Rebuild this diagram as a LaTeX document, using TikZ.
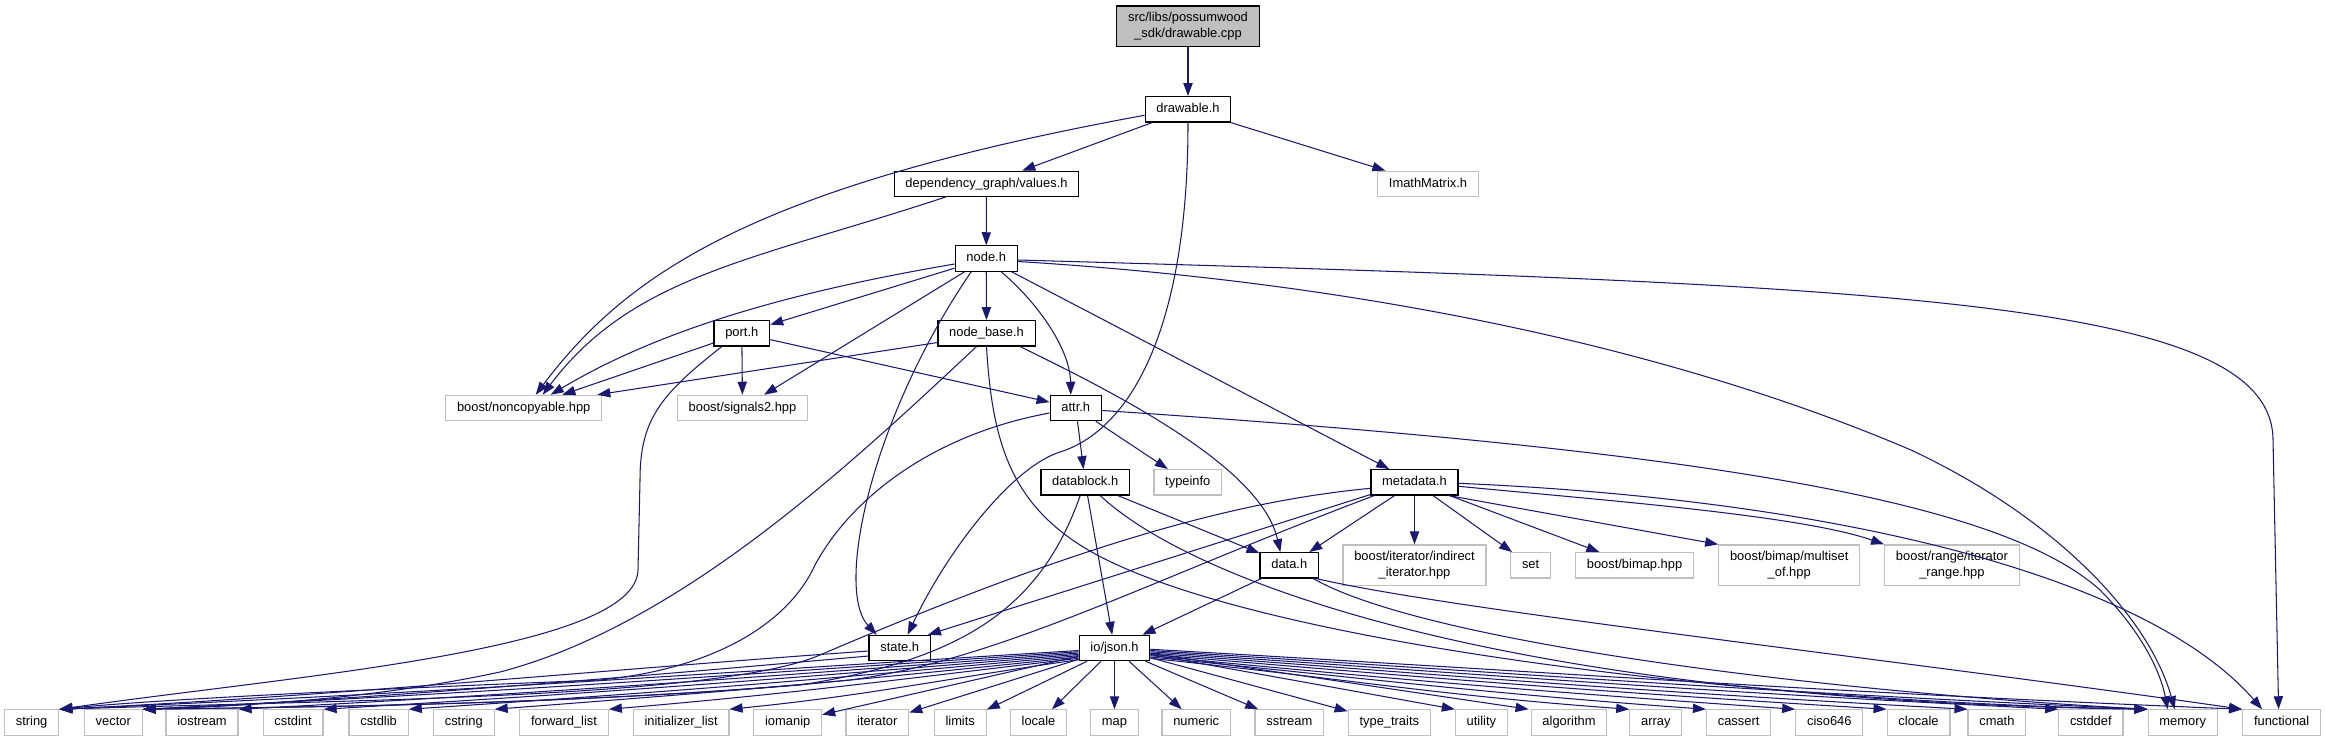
\documentclass[tikz,border=0pt]{standalone}
\usepackage{fontspec}
\setmainfont{Liberation Sans}
\usetikzlibrary{arrows.meta}
\definecolor{edgeblue}{HTML}{191970}
\definecolor{extgray}{HTML}{BFBFBF}
\newcommand{\nf}{\fontsize{12.9pt}{15.4pt}\selectfont}
\begin{document}
\begin{tikzpicture}[x=1pt,y=1pt,
  box/.style={rectangle, font=\nf, inner xsep=11.3pt, inner ysep=0pt, line width=1.2pt},
  single/.style={box, minimum height=25.3pt, text height=9.4pt, text depth=2.8pt},
  double/.style={box, align=center, minimum height=40.5pt},
  intn/.style={single, draw=black},
  extn/.style={single, draw=extgray},
  ext2/.style={double, draw=extgray},
  cppn/.style={double, draw=black, fill=extgray},
  edge/.style={draw=edgeblue, line width=1.05pt, -{Triangle[length=13pt,width=9.3pt]}}]
\useasboundingbox (0,0) rectangle (2325,-741);

\node[cppn] (cpp) at (1188,-26.3) {src/libs/possumwood\\\_sdk/drawable.cpp};
\node[intn] (drawable) at (1188,-109.3) {drawable.h};
\node[intn] (values) at (986.5,-183.8) {dependency\_graph/values.h};
\node[extn] (imath) at (1428,-183.8) {ImathMatrix.h};
\node[intn] (nodeh) at (986.2,-258.5) {node.h};
\node[intn] (nodebase) at (986.5,-333.3) {node\_base.h};
\node[intn] (port) at (741.8,-333.3) {port.h};
\node[intn] (attr) at (1075.8,-408) {attr.h};
\node[extn] (noncopy) at (523.7,-408) {boost/noncopyable.hpp};
\node[extn] (signals) at (742.5,-408) {boost/signals2.hpp};
\node[intn] (datablock) at (1085.2,-482.3) {datablock.h};
\node[extn] (typeinfo) at (1187.8,-482.3) {typeinfo};
\node[intn] (metadata) at (1414.5,-482.3) {metadata.h};
\node[intn] (data) at (1289.3,-565.3) {data.h};
\node[ext2] (indirect) at (1414.5,-565.2) {boost/iterator/indirect\\\_iterator.hpp};
\node[extn] (set) at (1530.6,-565.3) {set};
\node[extn] (bimap) at (1634.5,-565.3) {boost/bimap.hpp};
\node[ext2] (multiset) at (1789.2,-565.2) {boost/bimap/multiset\\\_of.hpp};
\node[ext2] (itrange) at (1951.9,-565.2) {boost/range/iterator\\\_range.hpp};
\node[intn] (state) at (899.7,-648) {state.h};
\node[intn] (json) at (1114.5,-648) {io/json.h};

\node[extn] (string) at (31.6,-722.5) {string};
\node[extn] (vector) at (113.3,-722.5) {vector};
\node[extn] (iostream) at (202,-722.5) {iostream};
\node[extn] (cstdint) at (293.1,-722.5) {cstdint};
\node[extn] (cstdlib) at (378.6,-722.5) {cstdlib};
\node[extn] (cstring) at (463.8,-722.5) {cstring};
\node[extn] (fwdlist) at (564,-722.5) {forward\_list};
\node[extn] (initlist) at (681.1,-722.5) {initializer\_list};
\node[extn] (iomanip) at (787.7,-722.5) {iomanip};
\node[extn] (iterator) at (877.3,-722.5) {iterator};
\node[extn] (limits) at (960.2,-722.5) {limits};
\node[extn] (locale) at (1038.5,-722.5) {locale};
\node[extn] (map) at (1114.5,-722.5) {map};
\node[extn] (numeric) at (1196.2,-722.5) {numeric};
\node[extn] (sstream) at (1289.3,-722.5) {sstream};
\node[extn] (typetraits) at (1389.3,-722.5) {type\_traits};
\node[extn] (utility) at (1481.4,-722.5) {utility};
\node[extn] (algorithm) at (1569,-722.5) {algorithm};
\node[extn] (array) at (1655.8,-722.5) {array};
\node[extn] (cassert) at (1738.6,-722.5) {cassert};
\node[extn] (ciso) at (1829.3,-722.5) {ciso646};
\node[extn] (clocale) at (1918.5,-722.5) {clocale};
\node[extn] (cmath) at (1996.9,-722.5) {cmath};
\node[extn] (cstddef) at (2090.8,-722.5) {cstddef};
\node[extn] (memory) at (2182.7,-722.5) {memory};
\node[extn] (functional) at (2281.6,-722.5) {functional};

% top part
\draw[edge] (cpp) -- (drawable);
\draw[edge] (drawable) -- (values);
\draw[edge] (drawable) -- (imath);
\draw[edge] ([yshift=-6pt]drawable.west) .. controls (751,-187) and (626,-275) .. ([xshift=12pt]noncopy.north);
\draw[edge] (drawable.south) .. controls (1188,-330) and (1130,-430) .. (1060,-452) .. controls (1010,-468) and (945,-555) .. ([xshift=8pt]state.north);
\draw[edge] (values) -- (nodeh);
\draw[edge] ([xshift=-41pt]values.south) .. controls (755,-260) and (633,-275) .. ([xshift=19pt]noncopy.north);

% node.h
\draw[edge] ([yshift=-5.5pt]nodeh.west) .. controls (778,-294) and (654,-333) .. ([xshift=27pt]noncopy.north);
\draw[edge] (nodeh) -- (port);
\draw[edge] (nodeh) -- (signals);
\draw[edge] ([xshift=-15pt]nodeh.south) .. controls (870,-420) and (835,-590) .. ([xshift=-23pt]state.north);
\draw[edge] (nodeh) -- (nodebase);
\draw[edge] ([xshift=15pt]nodeh.south) .. controls (1040,-305) and (1070,-350) .. ([xshift=-5pt]attr.north);
\draw[edge] (nodeh) -- (metadata);
\draw[edge] ([yshift=-1.5pt]nodeh.east) .. controls (1900,-285) and (2272,-300) .. (2273,-440) -- ([xshift=-3pt]functional.north);
\draw[edge] ([yshift=-3pt]nodeh.east) .. controls (1400,-285) and (1700,-360) .. (1911,-450) .. controls (2060,-520) and (2150,-620) .. ([xshift=-8pt]memory.north);

% port.h
\draw[edge] (port) -- (noncopy);
\draw[edge] (port) -- (signals);
\draw[edge] (port) -- (attr);
\draw[edge] ([xshift=-20pt]port.south) .. controls (660,-395) and (640,-420) .. (640,-480) -- (638,-570) .. controls (636,-650) and (300,-675) .. (string.north east);

% node_base.h
\draw[edge] ([yshift=4pt]nodebase.south west) -- ([xshift=-5pt]noncopy.north east);
\draw[edge] ([xshift=33.5pt]nodebase.south) .. controls (1130,-400) and (1262,-470) .. ([xshift=-9pt]data.north);
\draw[edge] ([xshift=-10pt]nodebase.south) .. controls (850,-465) and (680,-625) .. (500,-672) .. controls (380,-698) and (250,-706) .. (vector.north east);
\draw[edge] (nodebase.south) .. controls (992,-440) and (1010,-500) .. (1080,-545) .. controls (1220,-635) and (1700,-700) .. (memory.north west);

% attr.h
\draw[edge] (attr) -- (datablock);
\draw[edge] (attr) -- (typeinfo);
\draw[edge] ([yshift=-5pt]attr.west) .. controls (930,-435) and (850,-500) .. (815,-565) .. controls (790,-620) and (720,-668) .. (600,-680) .. controls (350,-690) and (150,-700) .. (string.north east);
\draw[edge] ([yshift=-2.5pt]attr.east) .. controls (1700,-450) and (2000,-500) .. (2100,-590) .. controls (2140,-630) and (2160,-670) .. ([xshift=-15pt]memory.north);

% datablock.h
\draw[edge] (datablock) -- (data);
\draw[edge] (datablock) -- (json);
\draw[edge] ([xshift=-5pt]datablock.south) .. controls (1040,-610) and (960,-660) .. (800,-685) .. controls (550,-705) and (300,-707) .. (vector.north east);
\draw[edge] ([xshift=15pt]datablock.south) .. controls (1190,-580) and (1500,-700) .. (memory.north west);

% data.h
\draw[edge] (data) -- (json);
\draw[edge] ([xshift=27pt]data.south) .. controls (1450,-610) and (1900,-660) .. (functional.north west);
\draw[edge] ([xshift=24pt]data.south) .. controls (1420,-640) and (1800,-690) .. (memory.north west);

% metadata.h
\draw[edge] (metadata) -- (data);
\draw[edge] (metadata) -- (indirect);
\draw[edge] (metadata) -- (set);
\draw[edge] (metadata) -- (bimap);
\draw[edge] ([xshift=-10pt]metadata.south east) -- (multiset.north west);
\draw[edge] ([yshift=-4pt]metadata.east) .. controls (1600,-500) and (1800,-515) .. (itrange.north west);
\draw[edge] ([yshift=-1pt]metadata.east) .. controls (1850,-500) and (2150,-580) .. ([xshift=20pt]functional.north west);
\draw[edge] ([yshift=1pt]metadata.south west) -- ([xshift=-3pt]state.north east);
\draw[edge] ([yshift=-6pt]metadata.west) .. controls (1250,-500) and (1100,-535) .. (820,-655) .. controls (720,-698) and (350,-700) .. (string.north east);
\draw[edge] ([xshift=4pt]metadata.south west) .. controls (1150,-580) and (1000,-660) .. (850,-680) .. controls (600,-705) and (300,-707) .. (vector.north east);

% state.h
\draw[edge] ([yshift=-3pt]state.west) .. controls (600,-670) and (350,-695) .. (string.north east);
\draw[edge] ([yshift=-8pt]state.west) .. controls (600,-680) and (350,-700) .. (vector.north east);

% io/json.h
\draw[edge] (json) -- (iomanip);
\draw[edge] (json) -- (iterator);
\draw[edge] (json) -- (limits);
\draw[edge] (json) -- (locale);
\draw[edge] (json) -- (map);
\draw[edge] (json) -- (numeric);
\draw[edge] (json) -- (sstream);
\draw[edge] (json) -- (typetraits);
\draw[edge] (json) -- (utility.north west);
\draw[edge] (json) -- ([xshift=-2pt]algorithm.north west);
\draw[edge] (json.184) .. controls +(-408,-25) and +(408,18) .. (string.north east);
\draw[edge] (json.186) .. controls +(-375,-25) and +(375,18) .. (vector.north east);
\draw[edge] (json.188) .. controls +(-336,-25) and +(336,18) .. (iostream.north east);
\draw[edge] (json.190) .. controls +(-302,-25) and +(302,18) .. (cstdint.north east);
\draw[edge] (json.192) .. controls +(-268,-25) and +(268,18) .. (cstdlib.north east);
\draw[edge] (json.194) .. controls +(-234,-25) and +(234,18) .. (cstring.north east);
\draw[edge] (json.196) .. controls +(-188,-22) and +(188,16) .. (fwdlist.north east);
\draw[edge] (json.198) .. controls +(-140,-20) and +(140,14) .. (initlist.north east);
\draw[edge] (json.344) .. controls +(192,-20) and +(-192,14) .. (array.north west);
\draw[edge] (json.346) .. controls +(222,-22) and +(-222,16) .. (cassert.north west);
\draw[edge] (json.348) .. controls +(258,-25) and +(-258,18) .. (ciso.north west);
\draw[edge] (json.350) .. controls +(295,-25) and +(-295,18) .. (clocale.north west);
\draw[edge] (json.352) .. controls +(330,-25) and +(-330,18) .. (cmath.north west);
\draw[edge] (json.354) .. controls +(363,-25) and +(-363,18) .. (cstddef.north west);
\draw[edge] (json.356) .. controls +(399,-25) and +(-399,18) .. (memory.north west);
\draw[edge] (json.358) .. controls +(437,-25) and +(-437,18) .. (functional.north west);
\end{tikzpicture}
\end{document}
